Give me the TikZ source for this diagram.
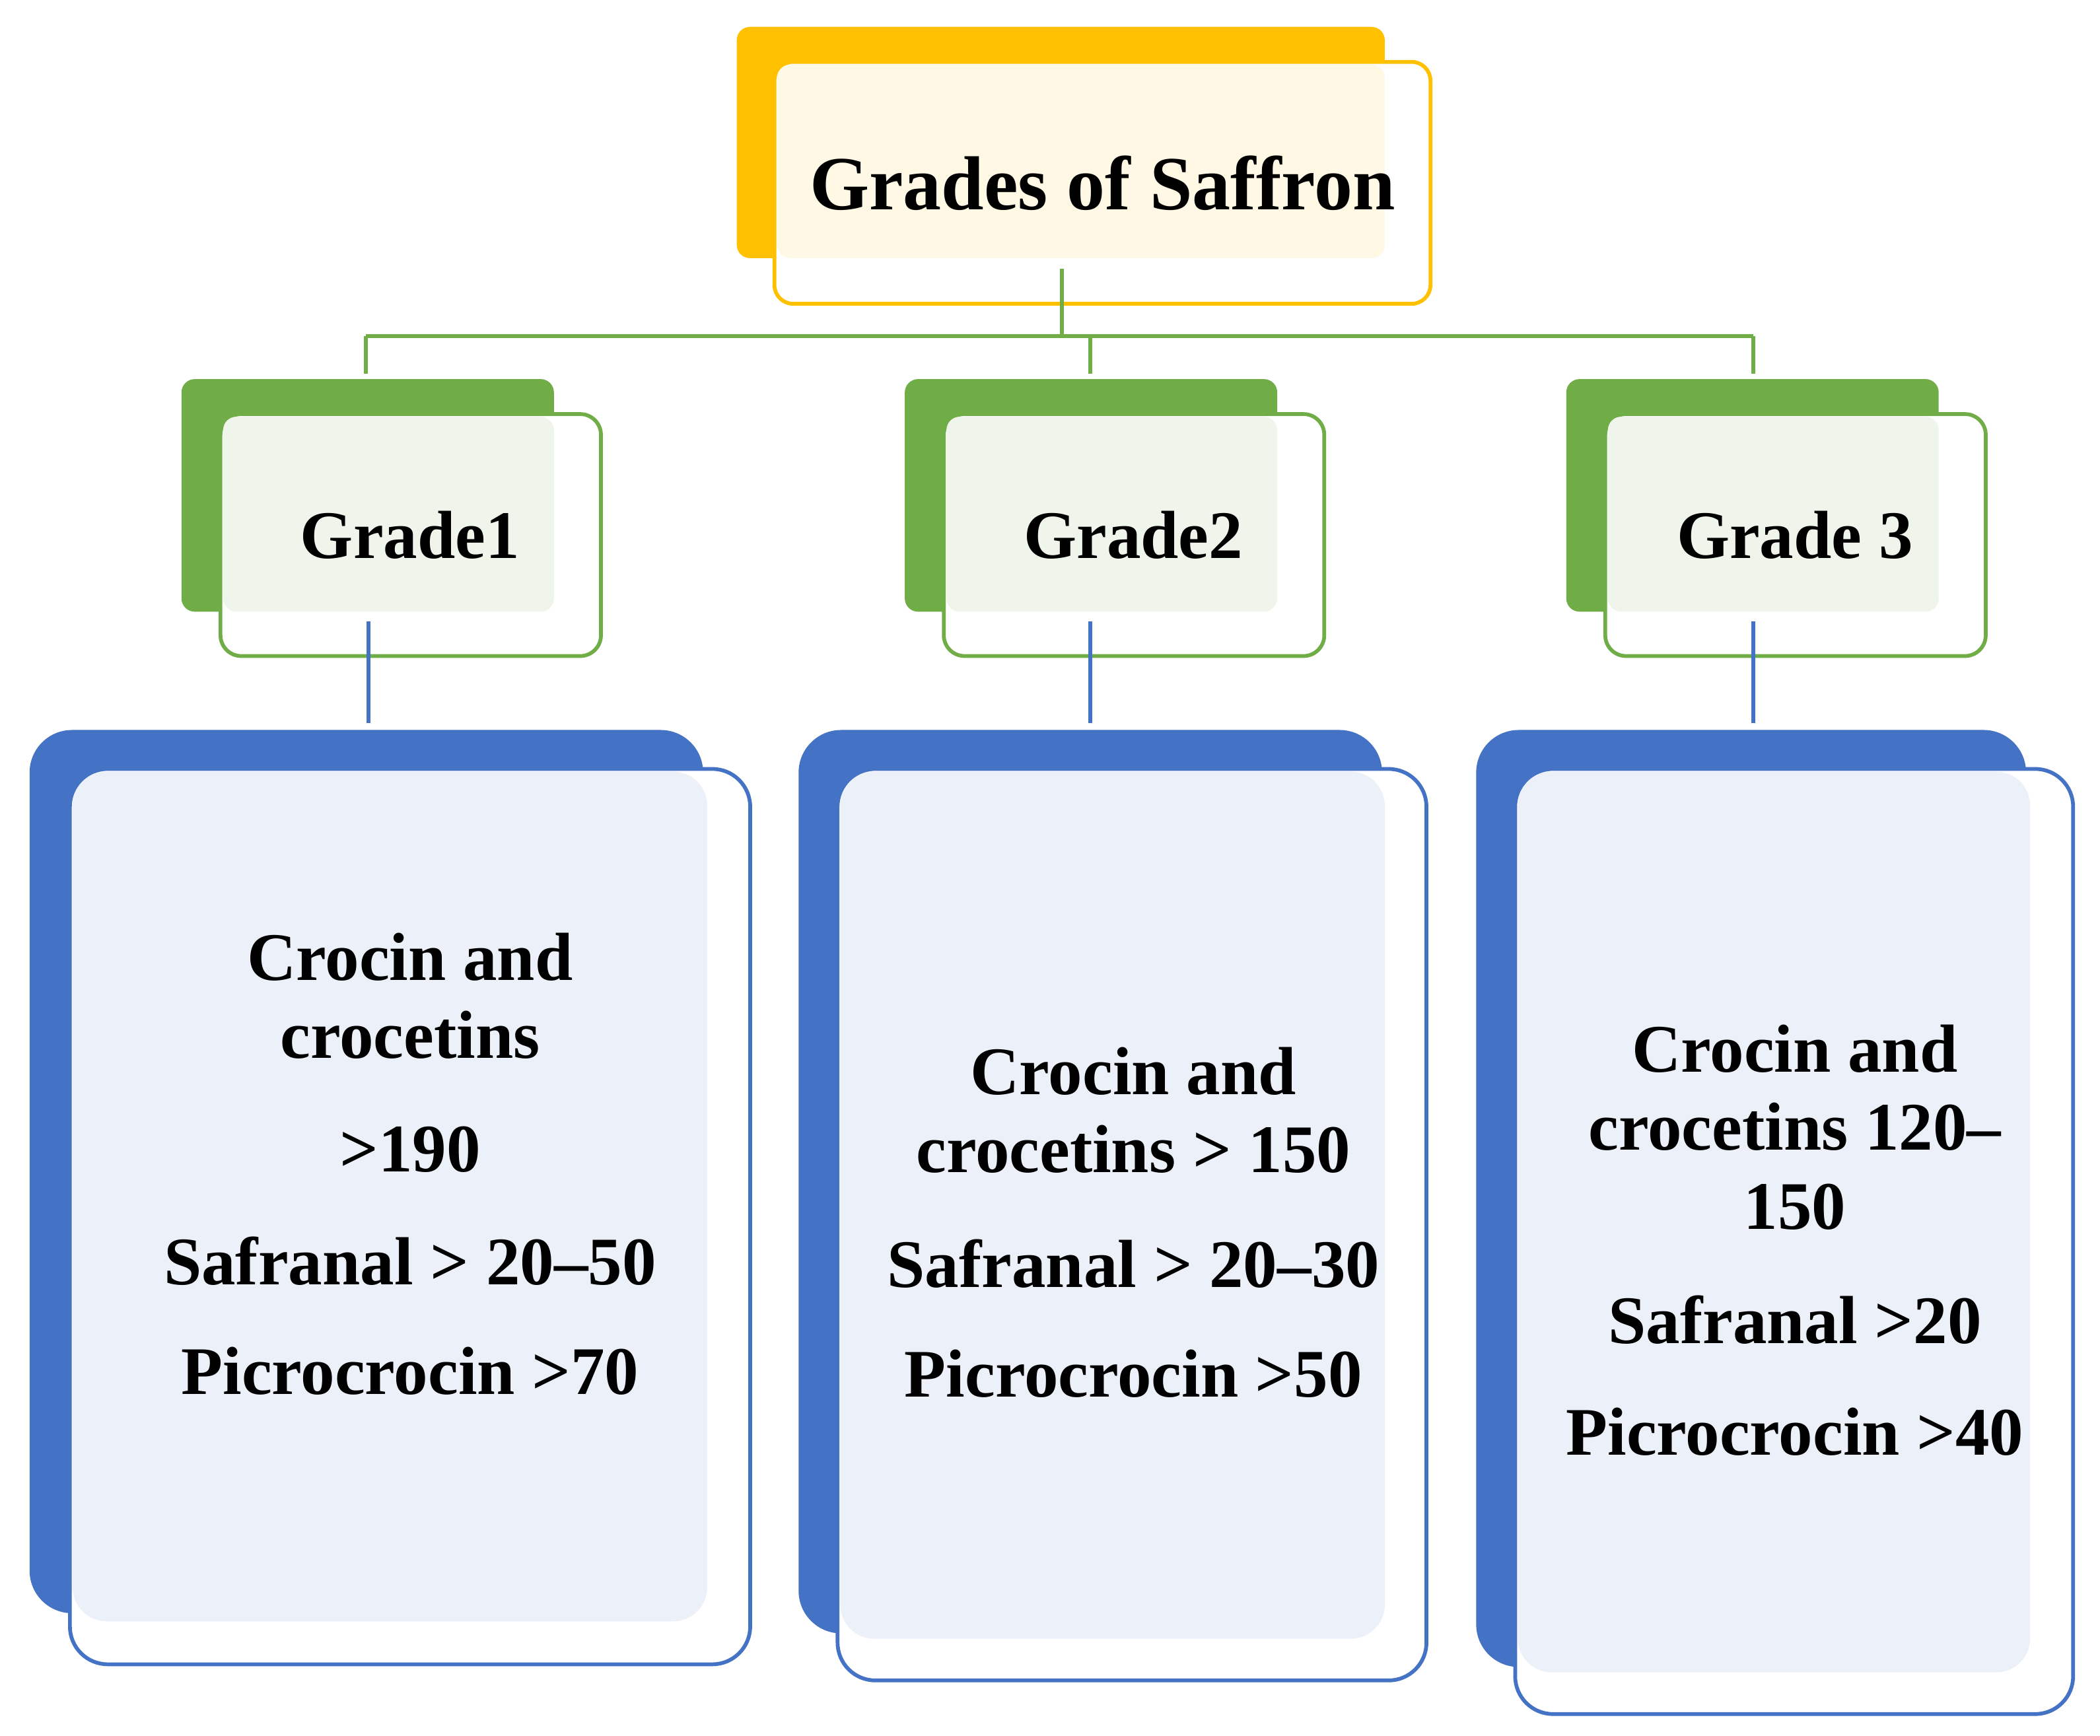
\documentclass[tikz,border=0pt]{standalone}
\usepackage{fontspec}
\setmainfont{Liberation Serif}
\definecolor{org}{HTML}{FFC000}
\definecolor{cream}{HTML}{FFF8E4}
\definecolor{grn}{HTML}{70AD47}
\definecolor{lgrn}{HTML}{F0F5EC}
\definecolor{blu}{HTML}{4472C4}
\definecolor{lblu}{HTML}{ECF0F9}
\begin{document}
\begin{tikzpicture}[x=0.05cm,y=-0.05cm,
  txt/.style={font=\fontsize{72}{80}\selectfont\bfseries,align=center,inner sep=0},
  gtxt/.style={font=\fontsize{72}{80}\selectfont\bfseries,inner sep=0},
  gl/.style={grn,line width=4pt},
  bl/.style={blu,line width=4pt}]
\useasboundingbox[fill=white] (0,0) rectangle (1562,1291);
% top
\fill[org,rounded corners=14pt] (548,20) rectangle (1030,192);
\draw[org,line width=4pt,fill=white,rounded corners=20pt] (576,46) rectangle (1064,226);
\fill[cream,rounded corners=14pt] (578,48) rectangle (1030,192);
\node[inner sep=0,font=\fontsize{81}{90}\selectfont\bfseries] (top) at (820,136) {Grades of Saffron};
% connectors green
\coordinate (t0) at (790,200);
\coordinate (t1) at (790,250);
\coordinate (h1) at (272,250);
\coordinate (h3) at (1304,250);
\draw[gl] (t0) -- (t1);
\draw[gl] (h1) -- (h3);
\foreach \x/\n in {272/a,811/b,1304/c}{
  \coordinate (s\n) at (\x,250);
  \coordinate (d\n) at (\x,278);
  \draw[gl] (s\n) -- (d\n);
}
% grade boxes
\foreach \bx in {135,673,1165}{
  \fill[grn,rounded corners=14pt] (\bx,282) rectangle (\bx+277,455);
  \draw[grn,line width=4pt,fill=white,rounded corners=22pt] (\bx+29,308) rectangle (\bx+312,488);
  \fill[lgrn,rounded corners=14pt] (\bx+31,310) rectangle (\bx+277,455);
}
\node[gtxt] (g1) at (305,398) {Grade1};
\node[gtxt] (g2) at (843,398) {Grade2};
\node[gtxt] (g3) at (1335,398) {Grade 3};
% blue connectors
\foreach \x/\n in {274/a,811/b,1304/c}{
  \coordinate (u\n) at (\x,462);
  \coordinate (v\n) at (\x,538);
  \draw[bl] (u\n) -- (v\n);
}
% blue boxes
\fill[blu,rounded corners=45pt] (22,543) rectangle (523,1200);
\draw[bl,fill=white,rounded corners=40pt] (52,572) rectangle (558,1238);
\fill[lblu,rounded corners=36pt] (54,574) rectangle (526,1206);
\fill[blu,rounded corners=45pt] (594,543) rectangle (1028,1215);
\draw[bl,fill=white,rounded corners=40pt] (623,572) rectangle (1061,1250);
\fill[lblu,rounded corners=36pt] (625,574) rectangle (1030,1219);
\fill[blu,rounded corners=45pt] (1098,543) rectangle (1507,1240);
\draw[bl,fill=white,rounded corners=40pt] (1127,572) rectangle (1542,1275);
\fill[lblu,rounded corners=36pt] (1129,574) rectangle (1510,1244);
% texts
\node[txt] (a1) at (305,712) {Crocin and};
\node[txt] (a2) at (305,770) {crocetins};
\node[txt] (a3) at (305,855) {>190};
\node[txt] (a4) at (305,938) {Safranal > 20–50};
\node[txt] (a5) at (305,1020) {Picrocrocin >70};
\node[txt] (b1) at (843,797) {Crocin and};
\node[txt] (b2) at (843,855) {crocetins > 150};
\node[txt] (b3) at (843,940) {Safranal > 20–30};
\node[txt] (b4) at (843,1022) {Picrocrocin >50};
\node[txt] (c1) at (1335,780) {Crocin and};
\node[txt] (c2) at (1335,838) {crocetins 120–};
\node[txt] (c3) at (1335,898) {150};
\node[txt] (c4) at (1335,982) {Safranal >20};
\node[txt] (c5) at (1335,1065) {Picrocrocin >40};
\end{tikzpicture}
\end{document}
